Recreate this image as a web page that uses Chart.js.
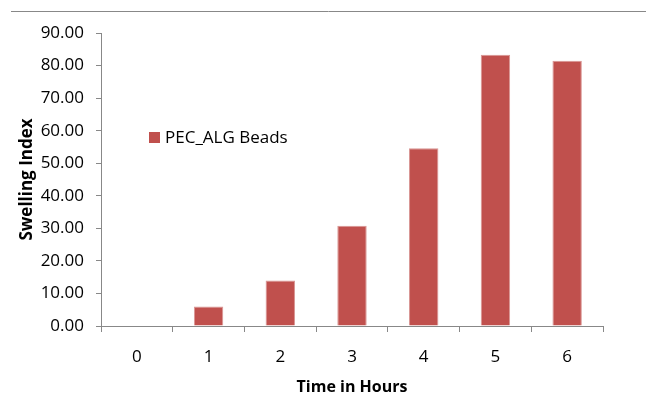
<!DOCTYPE html>
<html>
<head>
<meta charset="utf-8">
<script src="https://cdn.jsdelivr.net/npm/chart.js@4"></script>
<style>
  html, body { margin: 0; padding: 0; background: #fff; }
  #wrap { position: relative; width: 646px; height: 396px; }
</style>
</head>
<body>
<div id="wrap"><canvas id="myChart" width="646" height="396"></canvas></div>
<script>
const hours = ['0', '1', '2', '3', '4', '5', '6'];
const swelling = [0, 6.0, 14.0, 30.8, 54.6, 83.3, 81.5];
const seriesName = 'PEC_ALG Beads';

const font = "'Open Sans', 'Liberation Sans', sans-serif";

// top rule + legend drawn inside the plot area
const extras = {
  id: 'extras',
  afterDraw(chart) {
    const ctx = chart.ctx;
    ctx.save();
    ctx.strokeStyle = '#888';
    ctx.lineWidth = 1;
    ctx.beginPath();
    ctx.moveTo(11, 11.5);
    ctx.lineTo(646, 11.5);
    ctx.stroke();

    ctx.fillStyle = '#C0504D';
    ctx.fillRect(149, 132, 11, 11);
    ctx.fillStyle = '#000';
    ctx.font = '17px ' + font;
    ctx.textBaseline = 'middle';
    ctx.fillText(seriesName, 165, 138);
    ctx.restore();
  }
};

const cfg = {
  type: 'bar',
  data: {
    labels: hours,
    datasets: [{
      label: seriesName,
      data: swelling,
      backgroundColor: '#C0504D',
      borderColor: '#D99694',
      borderWidth: {left: 1, right: 1, top: 1, bottom: 0},
      categoryPercentage: 1,
      barPercentage: 0.41
    }]
  },
  options: {
    responsive: false,
    animation: false,
    plugins: { legend: { display: false }, tooltip: { enabled: false } },
    layout: { padding: { top: 33, right: 43, bottom: 0, left: 0 } },
    scales: {
      x: {
        grid: { display: true, drawOnChartArea: false, offset: true, tickLength: 6, color: '#888' },
        border: { color: '#888' },
        ticks: { color: '#000', font: { family: font, size: 17 }, padding: 15 },
        title: { display: true, text: 'Time in Hours', color: '#000',
                 font: { family: font, size: 16, weight: 'bold' }, padding: { top: 4, bottom: -1 } },
        afterFit(s) { s.height = 70; }
      },
      y: {
        min: 0, max: 90,
        grid: { drawOnChartArea: false, tickLength: 5, color: '#888' },
        border: { color: '#888' },
        ticks: { stepSize: 10, color: '#000', font: { family: font, size: 17 }, padding: 12,
                 callback: v => v.toFixed(2) },
        title: { display: true, text: 'Swelling Index', color: '#000',
                 font: { family: font, size: 17, weight: 'bold' }, padding: { top: 17, bottom: 0 } },
        afterFit(s) { s.width = 101; }
      }
    }
  },
  plugins: [extras]
};

const myChart = new Chart(document.getElementById('myChart'), cfg);
</script>
</body>
</html>
